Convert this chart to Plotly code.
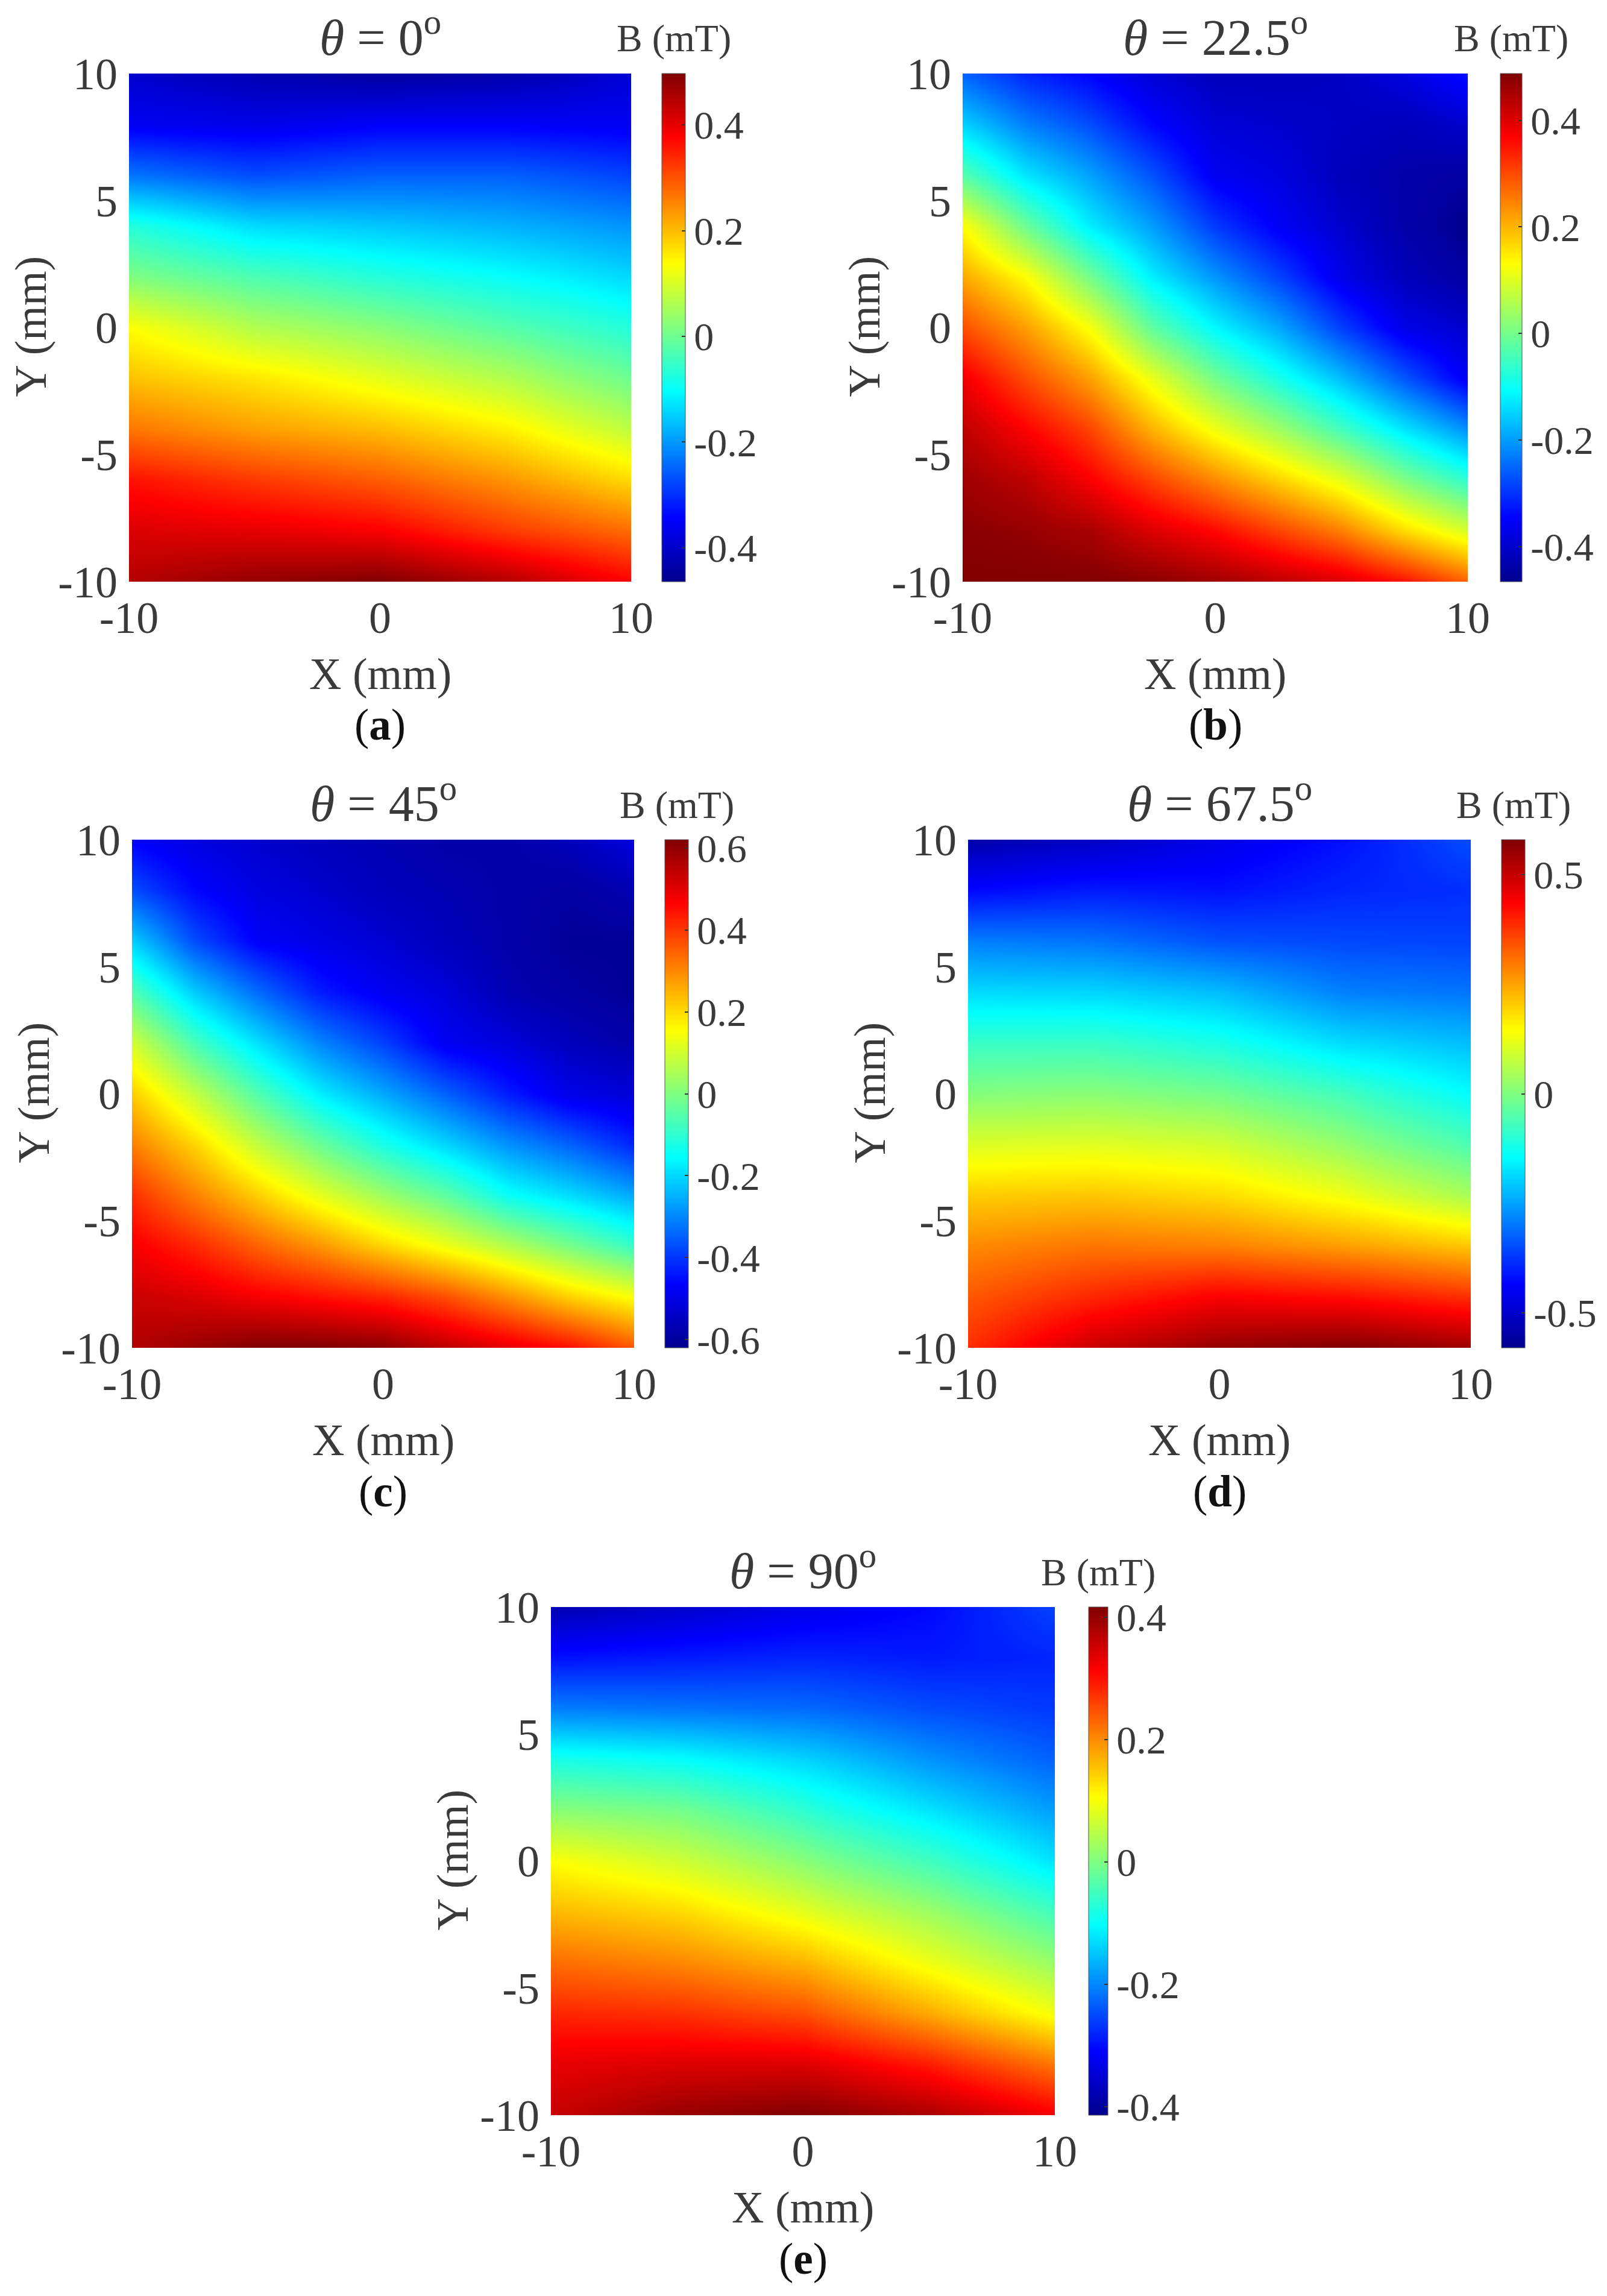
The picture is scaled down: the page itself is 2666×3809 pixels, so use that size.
import plotly.graph_objects as go

# The page puts the figure 8 px in from its corner, so the canvas is 16 px smaller
# than the window and the pixel helpers below take that 8 px off.
PAGE_INSET = 8
W, H = 2666 - 2 * PAGE_INSET, 3809 - 2 * PAGE_INSET

JET = [[0, "rgb(0,0,143)"], [0.125, "rgb(0,0,255)"], [0.375, "rgb(0,255,255)"],
       [0.625, "rgb(255,255,0)"], [0.875, "rgb(255,0,0)"], [1, "rgb(128,0,0)"]]

y_mm = [10, 8, 6, 4, 2, 0, -2, -4, -6, -8, -10]
x_coarse = [-10, -5, 0, 5, 10]
x_fine = [-10, -7.5, -5, -2.5, 0, 2.5, 5, 7.5, 10]
x_ticks = [-10, 0, 10]
y_ticks = [-10, -5, 0, 5, 10]

# B (mT), rows top (Y=10) to bottom (Y=-10)
b_a = [
    [-.397, -.426, -.445, -.435, -.387],
    [-.358, -.368, -.349, -.349, -.358],
    [-.233, -.272, -.253, -.253, -.281],
    [-.070, -.137, -.156, -.176, -.205],
    [.016, -.032, -.070, -.099, -.140],
    [.137, .065, .026, -.022, -.070],
    [.195, .161, .113, .065, .000],
    [.266, .228, .199, .151, .075],
    [.362, .324, .290, .238, .170],
    [.411, .401, .382, .324, .276],
    [.449, .478, .497, .449, .377],
]
b_b = [
    [-.256, -.313, -.347, -.390, -.418, -.418, -.409, -.380, -.332],
    [-.151, -.228, -.275, -.342, -.390, -.399, -.409, -.418, -.399],
    [-.027, -.132, -.194, -.270, -.361, -.380, -.418, -.437, -.447],
    [.130, -.008, -.123, -.199, -.294, -.356, -.399, -.437, -.466],
    [.211, .130, .001, -.123, -.208, -.285, -.371, -.418, -.447],
    [.297, .221, .126, -.018, -.113, -.189, -.289, -.371, -.399],
    [.383, .298, .221, .111, .001, -.084, -.170, -.266, -.361],
    [.431, .369, .307, .202, .116, .040, -.046, -.132, -.213],
    [.459, .431, .374, .307, .240, .173, .106, .011, -.065],
    [.478, .469, .450, .402, .364, .307, .250, .164, .092],
    [.488, .488, .488, .478, .459, .431, .402, .354, .278],
]
b_c = [
    [-.471, -.508, -.533, -.558, -.570, -.583, -.583, -.558, -.508],
    [-.372, -.459, -.508, -.533, -.558, -.570, -.583, -.595, -.570],
    [-.211, -.372, -.471, -.502, -.527, -.558, -.583, -.608, -.608],
    [-.055, -.217, -.335, -.434, -.484, -.515, -.570, -.595, -.608],
    [.099, -.068, -.192, -.303, -.388, -.484, -.515, -.558, -.583],
    [.217, .081, -.055, -.174, -.260, -.347, -.434, -.496, -.521],
    [.312, .207, .081, -.025, -.124, -.205, -.289, -.347, -.422],
    [.409, .310, .215, .124, .037, -.040, -.145, -.198, -.260],
    [.477, .418, .347, .285, .207, .136, .062, -.012, -.087],
    [.530, .510, .477, .449, .422, .372, .291, .211, .149],
    [.560, .590, .620, .620, .608, .546, .496, .446, .360],
]
b_d = [
    [-.545, -.510, -.464, -.418, -.348],
    [-.429, -.406, -.418, -.394, -.383],
    [-.290, -.302, -.342, -.354, -.360],
    [-.186, -.191, -.220, -.290, -.302],
    [-.081, -.081, -.116, -.186, -.220],
    [.006, .012, -.012, -.070, -.145],
    [.104, .110, .093, .023, -.058],
    [.203, .209, .186, .128, .046],
    [.278, .302, .290, .255, .209],
    [.336, .394, .441, .423, .383],
    [.383, .499, .557, .580, .545],
]
b_e = [
    [-.381, -.356, -.331, -.306, -.256],
    [-.298, -.290, -.281, -.290, -.281],
    [-.207, -.215, -.223, -.248, -.265],
    [-.082, -.099, -.136, -.190, -.231],
    [.009, -.007, -.065, -.124, -.182],
    [.105, .067, .009, -.049, -.124],
    [.163, .138, .084, .026, -.049],
    [.225, .204, .167, .092, .020],
    [.283, .275, .250, .175, .095],
    [.333, .341, .341, .292, .217],
    [.358, .399, .417, .383, .321],
]

angles = ["0", "22.5", "45", "67.5", "90"]
captions = ["a", "b", "c", "d", "e"]
grids = [b_a, b_b, b_c, b_d, b_e]
x_grids = [x_coarse, x_fine, x_fine, x_coarse, x_coarse]
z_ranges = [(-.464, .497), (-.466, .488), (-.62, .62), (-.58, .58), (-.414, .417)]
cbar_ticks = [[-.4, -.2, 0, .2, .4], [-.4, -.2, 0, .2, .4],
              [-.6, -.4, -.2, 0, .2, .4, .6], [-.5, 0, .5], [-.4, -.2, 0, .2, .4]]
cbar_text = [["-0.4", "-0.2", "0", "0.2", "0.4"], ["-0.4", "-0.2", "0", "0.2", "0.4"],
             ["-0.6", "-0.4", "-0.2", "0", "0.2", "0.4", "0.6"], ["-0.5", "0", "0.5"],
             ["-0.4", "-0.2", "0", "0.2", "0.4"]]

# pixel boxes in the photographed page: plot left, right, top, bottom, colourbar left, right
boxes = [(214, 1047, 122, 965, 1098, 1137),
         (1597, 2435, 122, 965, 2489, 2525),
         (219, 1052, 1393, 2236, 1103, 1142),
         (1606, 2440, 1393, 2236, 2491, 2530),
         (914, 1750, 2666, 3509, 1806, 1838)]

SERIF = "Liberation Serif"
GREY = "#3a3a3a"
fig = go.Figure()
ann = []


def px(v):
    return (v - PAGE_INSET) / W


def py(v):
    return 1 - (v - PAGE_INSET) / H


def note(text, x, y, size, color=GREY, angle=0):
    ann.append(dict(text=text, x=px(x), y=py(y), xref="paper", yref="paper",
                    xanchor="center", yanchor="middle", showarrow=False, textangle=angle,
                    font=dict(family=SERIF, size=size, color=color)))


layout_axes = {}
for i, (grid, xs, zr, ct, cs, box) in enumerate(zip(grids, x_grids, z_ranges, cbar_ticks, cbar_text, boxes)):
    left, right, top, bottom, cl, cr = box
    n = "" if i == 0 else str(i + 1)
    fig.add_trace(go.Heatmap(
        x=xs, y=y_mm, z=grid, zmin=zr[0], zmax=zr[1], zsmooth="best", colorscale=JET,
        xaxis="x" + n, yaxis="y" + n,
        colorbar=dict(
            x=px(cl), xref="paper", xanchor="left", y=py(bottom), yref="paper", yanchor="bottom",
            len=(bottom - top) / H, lenmode="fraction", thickness=cr - cl, thicknessmode="pixels",
            xpad=0, ypad=0, tickvals=ct, ticktext=cs, ticks="inside", ticklen=6, tickwidth=2,
            tickcolor="#333333", outlinewidth=1, outlinecolor="#555555",
            tickfont=dict(family=SERIF, size=66, color=GREY)),
    ))
    common = dict(range=[-10, 10], showgrid=False, zeroline=False, showline=False,
                  ticks="", automargin=False,
                  tickfont=dict(family=SERIF, size=74, color=GREY))
    layout_axes["xaxis" + n] = dict(domain=[px(left), px(right)], anchor="y" + n, ticklabelstandoff=10,
                                    tickvals=x_ticks, ticktext=[str(t) for t in x_ticks], **common)
    layout_axes["yaxis" + n] = dict(domain=[py(bottom), py(top)], anchor="x" + n, ticklabelstandoff=18,
                                    tickvals=y_ticks, ticktext=[str(t) for t in y_ticks], **common)
    mid = (left + right) / 2
    note(f"<i>θ</i> = {angles[i]}<sup>o</sup>", mid, top - 66, 84)
    note("B (mT)", (cl + cr) / 2, top - 58, 64)
    note("X (mm)", mid, bottom + 153, 74)
    note("Y (mm)", left - 164, (top + bottom) / 2 - 2, 74, angle=-90)
    note(f"(<b>{captions[i]}</b>)", mid, bottom + 238, 73, color="#111111")

fig.update_layout(width=W, height=H, margin=dict(l=0, r=0, t=0, b=0, autoexpand=False),
                  paper_bgcolor="white", plot_bgcolor="white", annotations=ann, **layout_axes)
fig.write_html("out.html")
